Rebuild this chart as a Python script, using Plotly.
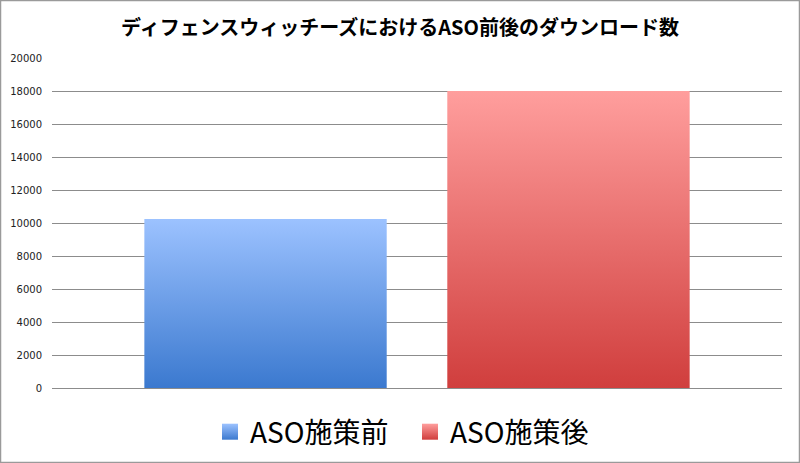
import plotly.graph_objects as go

# ---- data ----
title_text = "ディフェンスウィッチーズにおけるASO前後のダウンロード数"
series_names = ["ASO施策前", "ASO施策後"]
series_values = [10250, 18000]
y_ticks = [0, 2000, 4000, 6000, 8000, 10000, 12000, 14000, 16000, 18000, 20000]

# ---- style ----
gradients = [
    [[0, "#3B79CF"], [1, "#9CC2FF"]],
    [[0, "#D03E3D"], [1, "#FF9E9D"]],
]
bargap = 0.17
bargroupgap = 0.2

W, H = 800, 463
ml, mr, mt, mb = 52, 18, 58, 75

fig = go.Figure()
n = len(series_values)
slot = (1 - bargap) / n
bw = slot * (1 - bargroupgap)
for i, (name, v) in enumerate(zip(series_names, series_values)):
    c = -0.5 + bargap / 2 + slot * (i + 0.5)
    x0, x1 = c - bw / 2, c + bw / 2
    fig.add_trace(go.Scatter(
        x=[x0, x1, x1, x0, x0],
        y=[0, 0, v, v, 0],
        mode="lines",
        line=dict(width=0),
        fill="toself",
        fillgradient=dict(type="vertical", colorscale=gradients[i]),
        fillcolor=gradients[i][1][1],
        name=name,
        showlegend=False,
        hoverinfo="name+y",
    ))
for i, name in enumerate(series_names):
    fig.add_trace(go.Scatter(
        x=[None], y=[None],
        mode="markers",
        name=name,
        marker=dict(symbol="square", size=16,
                    color=gradients[i][1][1],
                    gradient=dict(type="vertical", color=gradients[i][0][1]),
                    line=dict(width=0)),
        showlegend=True,
    ))

fig.update_layout(
    width=W, height=H,
    margin=dict(l=ml, r=mr, t=mt, b=mb, autoexpand=False),
    paper_bgcolor="white",
    plot_bgcolor="white",
    title=dict(
        text=title_text,
        x=0.5, xanchor="center",
        y=1 - 28 / H, yanchor="middle",
        font=dict(family="Noto Sans CJK JP", size=20, color="#000000", weight="bold"),
    ),
    xaxis=dict(range=[-0.5, 0.5], visible=False, fixedrange=True, automargin=False),
    yaxis=dict(
        range=[0, 20000],
        tickvals=y_ticks,
        ticktext=[str(t) for t in y_ticks],
        showgrid=True, gridcolor="#8C8C8C", gridwidth=1,
        zeroline=True, zerolinecolor="#8C8C8C", zerolinewidth=1,
        showline=False, ticks="",
        automargin=False,
        ticklabelstandoff=9,
        tickfont=dict(family="DejaVu Sans", size=10, color="#222222"),
    ),
    showlegend=True,
    legend=dict(
        orientation="h",
        x=(410 - ml) / (W - ml - mr), xanchor="center",
        y=-(407 - (H - mb)) / (H - mt - mb), yanchor="top",
        font=dict(family="Noto Sans CJK JP", size=28, color="#000000"),
        itemwidth=30,
        entrywidth=155,
    ),
    shapes=[dict(
        type="rect", xref="paper", yref="paper",
        x0=-(ml - 0.5) / (W - ml - mr), x1=1 + (mr - 0.5) / (W - ml - mr),
        y0=-(mb - 0.5) / (H - mt - mb), y1=1 + (mt - 0.5) / (H - mt - mb),
        line=dict(color="#9A9A9A", width=1.5),
        fillcolor="rgba(0,0,0,0)", layer="above",
    )],
)

fig.write_html("out.html", config={"displayModeBar": False},
               post_script="document.body.style.margin='0px';")
